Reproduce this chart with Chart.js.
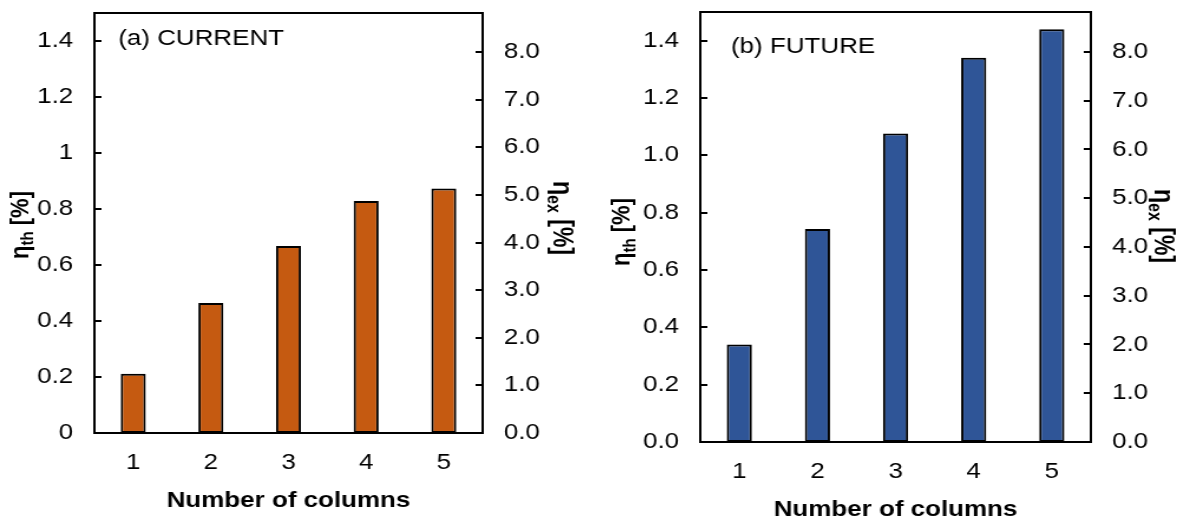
<!DOCTYPE html>
<html>
<head>
<meta charset="utf-8">
<script src="https://cdn.jsdelivr.net/npm/chart.js@4/dist/chart.umd.min.js"></script>
<style>
  html, body { margin: 0; padding: 0; background: #fff; }
  #wrap { position: relative; width: 1177px; height: 519px; overflow: hidden; background: #fff; }
  canvas { position: absolute; top: 0; }
</style>
</head>
<body>
<div id="wrap">
  <!-- each panel is drawn at 500px wide and widened to 590px on screen -->
  <canvas id="panelA" width="500" height="519" style="left:0;width:590px;height:519px;"></canvas>
  <canvas id="panelB" width="500" height="519" style="left:587px;width:590px;height:519px;"></canvas>
</div>
<script>
// ---- data ----
const columns = ['1', '2', '3', '4', '5'];
const etaThCurrent = [0.212, 0.464, 0.668, 0.829, 0.873];
const etaThFuture  = [0.340, 0.743, 1.076, 1.340, 1.440];

// ---- tick labels ----
const thTicksCurrent = ['0', '0.2', '0.4', '0.6', '0.8', '1', '1.2', '1.4'];
const thTicksFuture  = ['0.0', '0.2', '0.4', '0.6', '0.8', '1.0', '1.2', '1.4'];
const exTicks = ['0.0', '1.0', '2.0', '3.0', '4.0', '5.0', '6.0', '7.0', '8.0'];

// ---- axis ranges ----
const thMax = 1.5;
const exMax = 8.82;

const FAMILY = '"Liberation Sans", Arial, sans-serif';
Chart.defaults.font.family = FAMILY;
Chart.defaults.color = '#000';

// rotated y-axis title with a subscript: main + sub + rest
function drawYTitle(ctx, cx, cy, angle, main, sub, rest, size) {
  const big = `bold ${size}px ${FAMILY}`;
  const small = `bold ${Math.round(size * 0.68)}px ${FAMILY}`;
  ctx.save();
  ctx.translate(cx, cy);
  ctx.rotate(angle);
  ctx.fillStyle = '#000';
  ctx.textAlign = 'left';
  ctx.textBaseline = 'alphabetic';
  ctx.font = big;
  const w1 = ctx.measureText(main).width;
  const w3 = ctx.measureText(rest).width;
  ctx.font = small;
  const w2 = ctx.measureText(sub).width;
  let x = -(w1 + w2 + w3) / 2;
  const base = size * 0.26;
  ctx.font = big;   ctx.fillText(main, x, base); x += w1;
  ctx.font = small; ctx.fillText(sub, x, base + size * 0.22); x += w2;
  ctx.font = big;   ctx.fillText(rest, x, base);
  ctx.restore();
}

// plot frame, inward tick marks and all titles
const framePlugin = {
  id: 'frame',
  afterDraw(chart, args, o) {
    const { ctx, chartArea: a } = chart;
    ctx.save();
    ctx.strokeStyle = '#000';
    ctx.lineWidth = 2;
    ctx.strokeRect(a.left, a.top, a.right - a.left, a.bottom - a.top);

    const tickLen = 6;
    ctx.beginPath();
    chart.scales.y.ticks.forEach(t => {
      const py = Math.round(chart.scales.y.getPixelForValue(t.value));
      ctx.moveTo(a.left, py); ctx.lineTo(a.left + tickLen, py);
    });
    chart.scales.y2.ticks.forEach(t => {
      const py = Math.round(chart.scales.y2.getPixelForValue(t.value));
      ctx.moveTo(a.right, py); ctx.lineTo(a.right - tickLen, py);
    });
    ctx.stroke();

    // panel label
    ctx.fillStyle = '#000';
    ctx.textAlign = 'left';
    ctx.textBaseline = 'alphabetic';
    ctx.font = `22px ${FAMILY}`;
    ctx.fillText(o.panel, o.panelX, o.panelY);

    // x-axis title
    ctx.textAlign = 'center';
    ctx.font = `bold 22px ${FAMILY}`;
    ctx.fillText('Number of columns', (a.left + a.right) / 2, o.xTitleY);
    ctx.restore();

    drawYTitle(ctx, o.leftTitle[0], o.leftTitle[1], -Math.PI / 2, 'η', 'th', ' [%]', 22);
    drawYTitle(ctx, o.rightTitle[0], o.rightTitle[1], Math.PI / 2, 'η', 'ex', ' [%]', 23);
  }
};

function noPad(s) {
  s.paddingTop = 0; s.paddingBottom = 0; s.paddingLeft = 0; s.paddingRight = 0;
}

function makePanel(id, values, colour, thLabels, geo) {
  const tickFont = { size: 22, family: FAMILY };
  return new Chart(document.getElementById(id), {
    type: 'bar',
    data: {
      labels: columns,
      datasets: [{
        data: values,
        yAxisID: 'y',
        backgroundColor: colour,
        borderColor: '#000',
        borderWidth: 2,
        borderSkipped: false,
        barPercentage: 0.322,
        categoryPercentage: 1
      }]
    },
    options: {
      responsive: false,
      maintainAspectRatio: false,
      devicePixelRatio: 1,
      animation: false,
      layout: { padding: { left: 0, right: 0, top: geo.top, bottom: 0 } },
      plugins: {
        legend: { display: false },
        tooltip: { enabled: false },
        frame: geo.titles
      },
      scales: {
        x: {
          type: 'category',
          position: 'bottom',
          grid: { display: false, drawTicks: false },
          border: { display: false },
          ticks: { color: '#000', font: tickFont, padding: 17, maxRotation: 0 },
          afterFit: s => { s.height = geo.xHeight; noPad(s); }
        },
        y: {
          type: 'linear',
          position: 'left',
          min: 0,
          max: thMax,
          grid: { display: false, drawTicks: false },
          border: { display: false },
          ticks: { color: '#000', font: tickFont, padding: 18, callback: (v, i) => thLabels[i] },
          afterBuildTicks: s => { s.ticks = thLabels.map(l => ({ value: parseFloat(l) })); },
          afterFit: s => { s.width = geo.leftWidth; noPad(s); }
        },
        y2: {
          type: 'linear',
          position: 'right',
          min: 0,
          max: exMax,
          grid: { display: false, drawTicks: false },
          border: { display: false },
          ticks: { color: '#000', font: tickFont, padding: 18, callback: (v, i) => exTicks[i] },
          afterBuildTicks: s => { s.ticks = exTicks.map(l => ({ value: parseFloat(l) })); },
          afterFit: s => { s.width = geo.rightWidth; noPad(s); }
        }
      }
    },
    plugins: [framePlugin]
  });
}

makePanel('panelA', etaThCurrent, '#C55A11', thTicksCurrent, {
  top: 13, xHeight: 86, leftWidth: 80, rightWidth: 91,
  titles: {
    panel: '(a) CURRENT', panelX: 100.2, panelY: 45, xTitleY: 507,
    leftTitle: [17.8, 225], rightTitle: [475.4, 218]
  }
});

makePanel('panelB', etaThFuture, '#2F5597', thTicksFuture, {
  top: 12, xHeight: 77, leftWidth: 96, rightWidth: 73,
  titles: {
    panel: '(b) FUTURE', panelX: 122, panelY: 53, xTitleY: 516,
    leftTitle: [30.5, 232], rightTitle: [487.3, 226]
  }
});
</script>
</body>
</html>
